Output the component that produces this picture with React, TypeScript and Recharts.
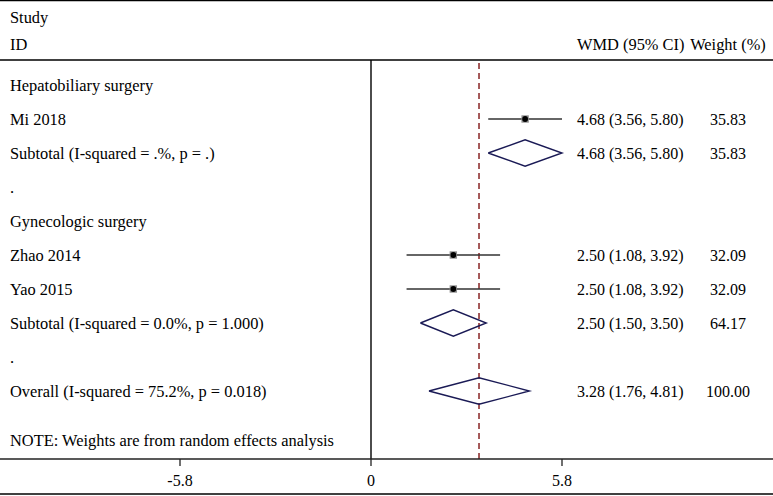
import React from 'react';
import { ScatterChart, Scatter, XAxis, YAxis, ReferenceLine, ErrorBar, Customized } from 'recharts';

// left column labels, one per row (top to bottom)
const rowLabels = [
  'Hepatobiliary surgery',
  'Mi 2018',
  'Subtotal (I-squared = .%, p = .)',
  '.',
  'Gynecologic surgery',
  'Zhao 2014',
  'Yao 2015',
  'Subtotal (I-squared = 0.0%, p = 1.000)',
  '.',
  'Overall (I-squared = 75.2%, p = 0.018)',
];
const noteText = 'NOTE: Weights are from random effects analysis';

// individual studies
const studyRows = [1, 5, 6];
const studyEst = [4.68, 2.5, 2.5];
const studyLow = [3.56, 1.08, 1.08];
const studyHigh = [5.8, 3.92, 3.92];
const studyWeight = [35.83, 32.09, 32.09];

// pooled estimates (diamonds)
const poolRows = [2, 7, 9];
const poolEst = [4.68, 2.5, 3.28];
const poolLow = [3.56, 1.5, 1.76];
const poolHigh = [5.8, 3.5, 4.81];
const poolWeight = [35.83, 64.17, 100.0];

const overallEffect = 3.28;
const xTicks = [-5.8, 0, 5.8];

const W = 773;
const H = 496;
const FONT = "'Liberation Serif', 'Times New Roman', serif";
const FS = 16.4;
const NUM_FS = 16;
const LABEL_X = 10;
const EST_X = 577;
const WEIGHT_X = 728;
const DIAMOND_H = 0.39;
const X_MIN = -371 / (191 / 5.8);
const X_MAX = (W - 371) / (191 / 5.8);

const fmt = (v: number) => v.toFixed(2);

const labelData = [
  ...rowLabels.map((t, i) => ({ x: 0, y: i, label: t })),
  { x: 0, y: 10.44, label: noteText },
];

const studyData = studyRows.map((r, i) => ({
  x: studyEst[i],
  y: r,
  err: [studyEst[i] - studyLow[i], studyHigh[i] - studyEst[i]],
}));

const statData = [
  ...studyRows.map((r, i) => ({ x: 0, y: r, est: studyEst[i], lo: studyLow[i], hi: studyHigh[i], w: studyWeight[i] })),
  ...poolRows.map((r, i) => ({ x: 0, y: r, est: poolEst[i], lo: poolLow[i], hi: poolHigh[i], w: poolWeight[i] })),
];

const diamonds = poolRows.map((r, i) => [
  { x: poolLow[i], y: r },
  { x: poolEst[i], y: r - DIAMOND_H },
  { x: poolHigh[i], y: r },
  { x: poolEst[i], y: r + DIAMOND_H },
  { x: poolLow[i], y: r },
]);

const LabelShape = (props: any) => (
  <text x={LABEL_X} y={props.cy} dy="0.35em" fontSize={FS} fill="#000" fontFamily={FONT}>
    {props.payload.label}
  </text>
);

const StatShape = (props: any) => {
  const p = props.payload;
  return (
    <g>
      <text x={EST_X} y={props.cy} dy="0.35em" fontSize={NUM_FS} fill="#000" fontFamily={FONT}>
        {`${fmt(p.est)} (${fmt(p.lo)}, ${fmt(p.hi)})`}
      </text>
      <text x={WEIGHT_X} y={props.cy} dy="0.35em" fontSize={NUM_FS} fill="#000" fontFamily={FONT} textAnchor="middle">
        {fmt(p.w)}
      </text>
    </g>
  );
};

const MarkerShape = (props: any) => (
  <g>
    <rect x={props.cx - 3.7} y={props.cy - 3.7} width={7.4} height={7.4} fill="#909090" />
    <circle cx={props.cx} cy={props.cy} r={2.9} fill="#000" />
  </g>
);

const Frame = () => (
  <g fontFamily={FONT} fontSize={FS} fill="#000">
    <line x1={0} x2={W} y1={0.5} y2={0.5} stroke="#000" strokeWidth={1.3} />
    <line x1={0} x2={W} y1={60} y2={60} stroke="#000" strokeWidth={1.3} />
    <line x1={0} x2={W} y1={494} y2={494} stroke="#000" strokeWidth={1.3} />
    <text x={LABEL_X} y={17} dy="0.35em">Study</text>
    <text x={LABEL_X} y={44} dy="0.35em">ID</text>
    <text x={EST_X} y={44} dy="0.35em">WMD (95% CI)</text>
    <text x={WEIGHT_X} y={44} dy="0.35em" textAnchor="middle">Weight (%)</text>
  </g>
);

export default function App() {
  return (
    <div style={{ position: 'absolute', left: 0, top: 0, background: '#fff' }}>
      <ScatterChart width={W} height={H} margin={{ top: 60, right: 0, bottom: 7, left: 0 }} style={{ fontFamily: FONT }}>
        <XAxis
          type="number"
          dataKey="x"
          domain={[X_MIN, X_MAX]}
          allowDataOverflow
          ticks={xTicks}
          height={30}
          tickSize={7}
          tickMargin={9}
          stroke="#222"
          strokeWidth={1.3}
          tick={{ fill: '#000', fontSize: 16, fontFamily: FONT }}
        />
        <YAxis type="number" dataKey="y" domain={[-25 / 34, 11]} reversed hide allowDataOverflow />
        <ReferenceLine x={0} stroke="#000" strokeWidth={1.4} />
        <ReferenceLine x={overallEffect} stroke="#7f1414" strokeWidth={1.4} strokeDasharray="6 4" />
        <Customized component={Frame} />
        {diamonds.map((d, i) => (
          <Scatter
            key={i}
            data={d}
            line={{ stroke: '#1a1a55', strokeWidth: 1.4 }}
            shape={() => <g />}
            isAnimationActive={false}
          />
        ))}
        <Scatter data={studyData} shape={MarkerShape} isAnimationActive={false}>
          <ErrorBar dataKey="err" direction="x" width={0} stroke="#333" strokeWidth={1.3} isAnimationActive={false} />
        </Scatter>
        <Scatter data={labelData} shape={LabelShape} isAnimationActive={false} />
        <Scatter data={statData} shape={StatShape} isAnimationActive={false} />
      </ScatterChart>
    </div>
  );
}
